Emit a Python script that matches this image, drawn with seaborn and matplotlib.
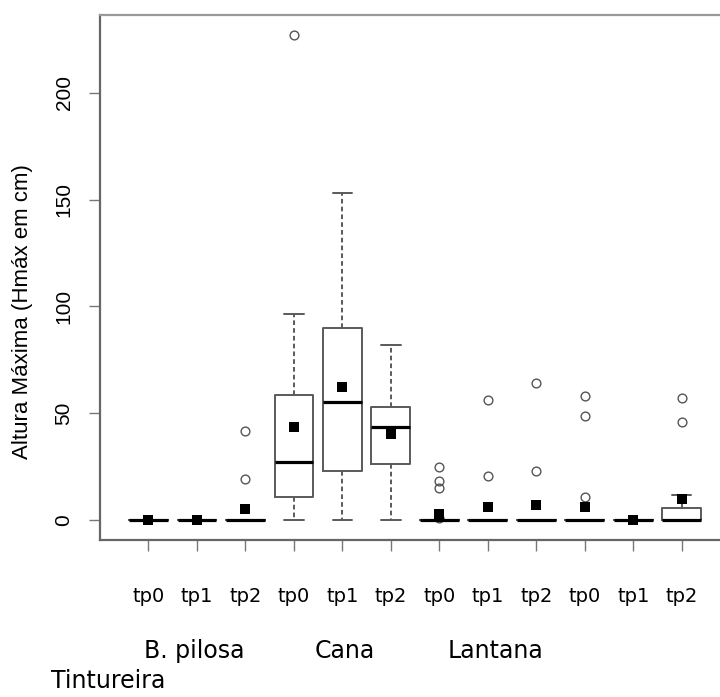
import numpy as np
import pandas as pd
import matplotlib
matplotlib.use("Agg")
import matplotlib.pyplot as plt
import seaborn as sns

species = ["B. pilosa", "Cana", "Lantana", "Tintureira"]
periods = ["tp0", "tp1", "tp2"]

# box summaries, in order species x period
q1 = [0, 0, 0, 10.9, 23.1, 26.2, 0, 0, 0, 0, 0, 0]
medians = [0, 0, 0, 27.0, 55.4, 43.4, 0, 0, 0, 0, 0, 0]
q3 = [0, 0, 0, 58.5, 89.7, 53.0, 0, 0, 0, 0, 0, 5.8]
whisker_low = [0, 0, 0, 0, 0, 0, 0, 0, 0, 0, 0, 0]
whisker_high = [0, 0, 0, 96.3, 153.2, 81.9, 0, 0, 0, 0, 0, 11.9]
outliers = [
    [], [], [41.8, 19.0],
    [227.2], [], [],
    [25.0, 18.4, 14.8, 1.0], [56.2, 20.7], [64.0, 22.9],
    [58.0, 48.8, 10.9], [], [57.0, 45.9],
]
means = [0, 0, 5.0, 43.4, 62.1, 40.3, 2.8, 6.2, 7.0, 5.9, 0, 9.8]

narrow = ["Liberation Sans Narrow", "Liberation Sans", "DejaVu Sans"]

sns.set_style("white")
plt.rcParams["font.family"] = ["DejaVu Sans"]
plt.rcParams["text.color"] = "black"
plt.rcParams["axes.labelcolor"] = "black"

fig = plt.figure(figsize=(7.2, 6.97), dpi=100)
ax = fig.add_axes([100 / 720, 157 / 697, 620 / 720, 525 / 697])

stats = []
for i in range(len(medians)):
    stats.append(dict(med=medians[i], q1=q1[i], q3=q3[i],
                      whislo=whisker_low[i], whishi=whisker_high[i],
                      fliers=outliers[i]))

positions = np.arange(1, len(stats) + 1)
ax.bxp(stats, positions=positions, widths=0.8, capwidths=0.4,
       boxprops=dict(color="#5a5a5a", linewidth=1.4),
       medianprops=dict(color="black", linewidth=2.3),
       whiskerprops=dict(color="#5a5a5a", linewidth=1.4, linestyle=(0, (2.4, 1.6))),
       capprops=dict(color="#5a5a5a", linewidth=1.4),
       flierprops=dict(marker="o", markerfacecolor="none",
                       markeredgecolor="#555555", markersize=6.3,
                       markeredgewidth=1.0))

mean_df = pd.DataFrame({"pos": positions, "mean": means})
sns.scatterplot(data=mean_df, x="pos", y="mean", marker="s", color="black",
                s=52, linewidth=0, ax=ax, zorder=5, legend=False)

ax.set_xlim(0, 12.79)
ax.set_ylim(-9.36, 236.4)
ax.set_xticks(positions)
ax.set_xticklabels(periods * len(species), fontsize=14)
ax.set_yticks([0, 50, 100, 150, 200])
ax.set_yticklabels(["0", "50", "100", "150", "200"], family=narrow, fontsize=15,
                   va="center")
ax.set_xlabel("")
ax.tick_params(axis="x", bottom=True, length=8, width=1, color="#777777",
               labelcolor="black", pad=26)
ax.tick_params(axis="y", left=True, length=8, width=1, color="#777777",
               labelcolor="black", pad=11, labelrotation=90)
for lab in ax.get_yticklabels():
    lab.set_verticalalignment("center")

ax.spines["right"].set_visible(False)
ax.spines["top"].set_color("#999999")
ax.spines["top"].set_linewidth(1.6)
for side in ["left", "bottom"]:
    ax.spines[side].set_color("#666666")
    ax.spines[side].set_linewidth(1.6)

ax.set_ylabel("Altura Máxima (Hmáx em cm)", family=narrow, fontsize=16, va="center")
ax.yaxis.set_label_coords((22.5 - 100) / 620, (540 - 312) / 525)

# species names under the period labels
label_pos = [(194, 658), (345, 658), (495, 658), (108, 688)]
for name, (px, py) in zip(species, label_pos):
    fig.text(px / 720, 1 - py / 697, name, ha="center", va="baseline", fontsize=17)

fig.savefig("out.png", dpi=100)
